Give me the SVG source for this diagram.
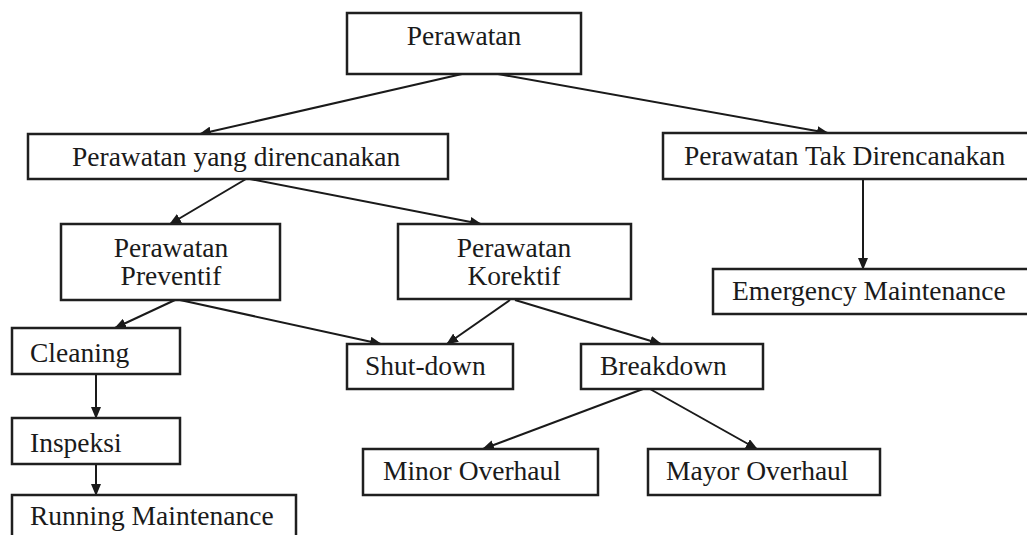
<svg xmlns="http://www.w3.org/2000/svg" width="1027" height="535" viewBox="0 0 1027 535">
<defs>
<marker id="arr" markerWidth="12" markerHeight="10" refX="11" refY="5" orient="auto" markerUnits="userSpaceOnUse">
<path d="M0,0 L12,5 L0,10 Z" fill="#1a1a1a"/>
</marker>
<style>
.box{fill:#fff;stroke:#1f1f1f;stroke-width:2.5}
.t{font-family:"Liberation Serif","Times New Roman",serif;font-size:27.5px;fill:#1a1a1a}
.c{text-anchor:middle}
.ln{stroke:#1a1a1a;stroke-width:2;fill:none;marker-end:url(#arr)}
</style>
</defs>
<rect width="1027" height="535" fill="#fff"/>
<g id="connectors">
<line class="ln" x1="462" y1="74" x2="200" y2="134"/>
<line class="ln" x1="498" y1="74" x2="828" y2="133"/>
<line class="ln" x1="863" y1="179" x2="863" y2="269"/>
<line class="ln" x1="246" y1="179" x2="170" y2="224"/>
<line class="ln" x1="250" y1="179" x2="481" y2="224"/>
<line class="ln" x1="175" y1="300" x2="115" y2="328"/>
<line class="ln" x1="180" y1="300" x2="381" y2="344"/>
<line class="ln" x1="510" y1="300" x2="447" y2="344"/>
<line class="ln" x1="515" y1="300" x2="661" y2="344"/>
<line class="ln" x1="96" y1="374" x2="96" y2="418"/>
<line class="ln" x1="96" y1="464" x2="96" y2="495"/>
<line class="ln" x1="643" y1="389" x2="483" y2="449"/>
<line class="ln" x1="650" y1="389" x2="757" y2="449"/>
</g>
<g id="perawatan">
<rect class="box" x="347" y="13" width="234" height="61"/>
<text class="t c" x="464" y="45">Perawatan</text>
</g>
<g id="direncanakan">
<rect class="box" x="28" y="134" width="420" height="45"/>
<text class="t" x="72" y="166">Perawatan yang direncanakan</text>
</g>
<g id="tak-direncanakan">
<rect class="box" x="663" y="133" width="370" height="46"/>
<text class="t" x="684" y="165">Perawatan Tak Direncanakan</text>
</g>
<g id="emergency">
<rect class="box" x="713" y="269" width="320" height="45"/>
<text class="t" x="732" y="300">Emergency Maintenance</text>
</g>
<g id="preventif">
<rect class="box" x="61" y="224" width="219" height="76"/>
<text class="t c" x="171" y="257">Perawatan</text>
<text class="t c" x="171" y="285">Preventif</text>
</g>
<g id="korektif">
<rect class="box" x="398" y="224" width="233" height="75"/>
<text class="t c" x="514" y="257">Perawatan</text>
<text class="t c" x="514" y="285">Korektif</text>
</g>
<g id="cleaning">
<rect class="box" x="12" y="328" width="168" height="46"/>
<text class="t" x="30" y="362">Cleaning</text>
</g>
<g id="shutdown">
<rect class="box" x="347" y="344" width="166" height="45"/>
<text class="t" x="365" y="375">Shut-down</text>
</g>
<g id="breakdown">
<rect class="box" x="581" y="344" width="182" height="45"/>
<text class="t" x="600" y="375">Breakdown</text>
</g>
<g id="inspeksi">
<rect class="box" x="12" y="418" width="168" height="46"/>
<text class="t" x="30" y="452">Inspeksi</text>
</g>
<g id="running">
<rect class="box" x="12" y="495" width="284" height="50"/>
<text class="t" x="30" y="525">Running Maintenance</text>
</g>
<g id="minor">
<rect class="box" x="363" y="449" width="235" height="46"/>
<text class="t" x="383" y="480">Minor Overhaul</text>
</g>
<g id="mayor">
<rect class="box" x="648" y="449" width="232" height="46"/>
<text class="t" x="666" y="480">Mayor Overhaul</text>
</g>
</svg>
